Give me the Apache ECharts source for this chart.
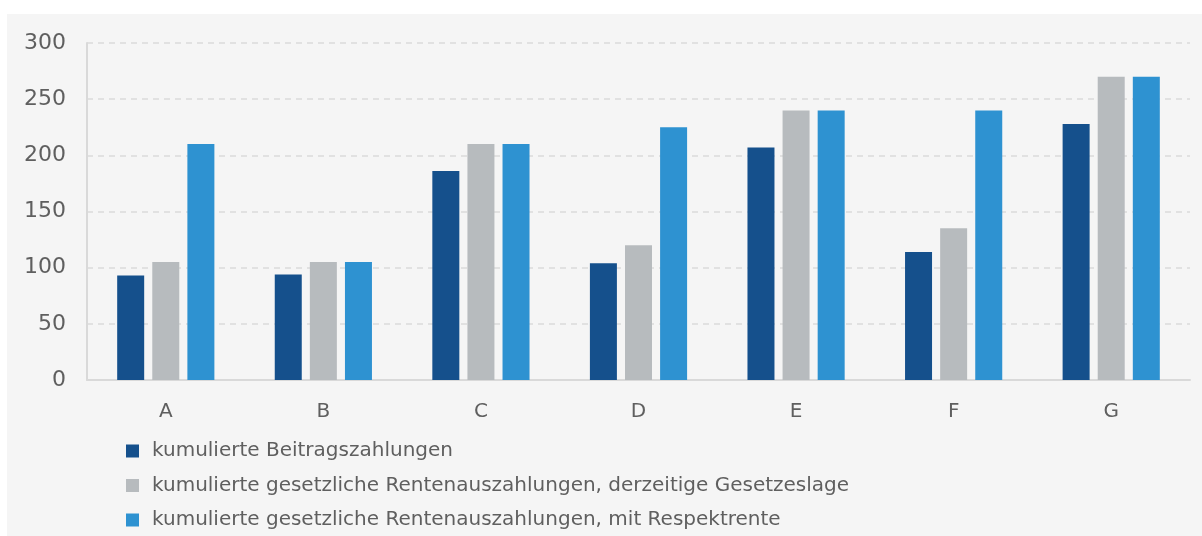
<!DOCTYPE html>
<html lang="de">
<head>
  <meta charset="utf-8">
  <script src="https://cdn.jsdelivr.net/npm/echarts@6/dist/echarts.min.js"></script>
</head>
<body style="margin: 0; background: #ffffff">
  <div id="container" style="position: absolute; left: 7px; top: 14px; width: 1195px; height: 522px; background: #f5f5f5"></div>
  <script>
    var categories = ['A', 'B', 'C', 'D', 'E', 'F', 'G'];
    var beitraege = [93, 94, 186, 104, 207, 114, 228];
    var renteAktuell = [105, 105, 210, 120, 240, 135, 270];
    var renteRespekt = [210, 105, 210, 225, 240, 240, 270];
    var seriesNames = [
      'kumulierte Beitragszahlungen',
      'kumulierte gesetzliche Rentenauszahlungen, derzeitige Gesetzeslage',
      'kumulierte gesetzliche Rentenauszahlungen, mit Respektrente'
    ];
    var colors = ['#15508c', '#b7bbbe', '#2e92d1'];

    var chart = echarts.init(document.getElementById('container'), null, { renderer: 'canvas' });
    var font = 'DejaVu Sans';

    function bar(name, data, color) {
      return {
        name: name,
        type: 'bar',
        data: data,
        barWidth: 27,
        barGap: '30%',
        itemStyle: { color: color },
        emphasis: { disabled: true }
      };
    }

    chart.setOption({
      animation: false,
      color: colors,
      textStyle: { fontFamily: font },
      grid: { left: 80, right: 12, top: 29, bottom: 156 },
      legend: {
        orient: 'vertical',
        left: 119,
        top: 427,
        height: 94,
        padding: 0,
        itemWidth: 13,
        itemHeight: 13,
        itemGap: 14.5,
        icon: 'rect',
        textStyle: { fontFamily: font, fontSize: 20, lineHeight: 20, color: '#5f5f5f', padding: [0, 0, 0, 8] },
        data: seriesNames
      },
      xAxis: {
        type: 'category',
        data: categories,
        axisLine: { lineStyle: { color: '#d9d9d9', width: 2 } },
        axisTick: { show: false },
        axisLabel: { color: '#5f5f5f', fontSize: 20, margin: 22 }
      },
      yAxis: {
        type: 'value',
        min: 0,
        max: 300,
        interval: 50,
        axisLine: { show: true, lineStyle: { color: '#d9d9d9', width: 2 } },
        axisTick: { show: false },
        axisLabel: { color: '#5f5f5f', fontSize: 22, margin: 21 },
        splitLine: { lineStyle: { color: '#dadada', width: 1.5, type: [6, 5] } }
      },
      series: [
        bar(seriesNames[0], beitraege, colors[0]),
        bar(seriesNames[1], renteAktuell, colors[1]),
        bar(seriesNames[2], renteRespekt, colors[2])
      ]
    });

    window.addEventListener('resize', chart.resize);
  </script>
</body>
</html>
